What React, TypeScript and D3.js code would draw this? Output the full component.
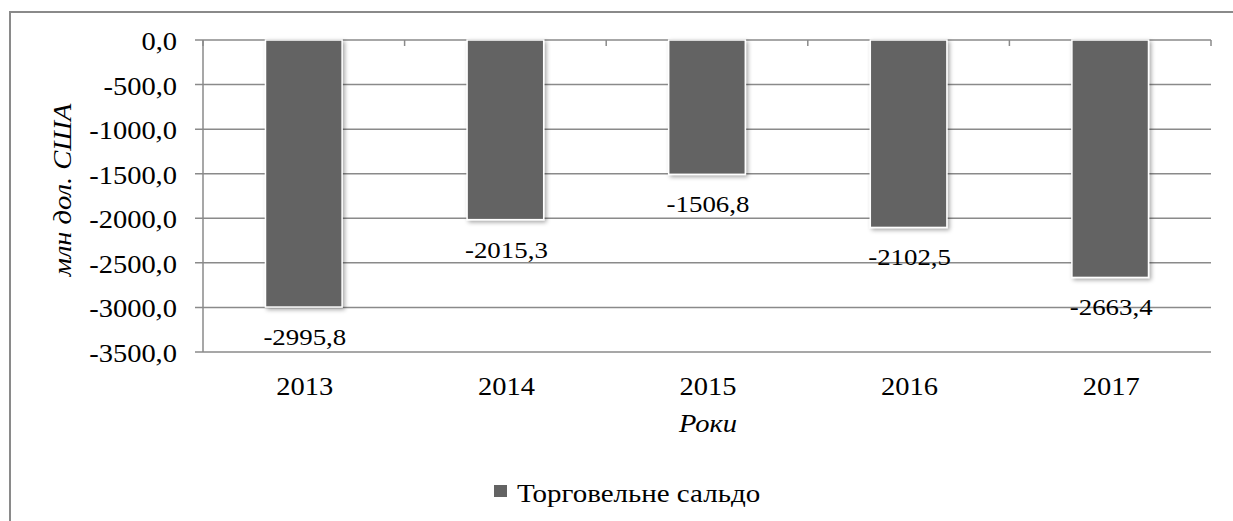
import * as d3 from "d3";
import React from "react";

const years = ["2013", "2014", "2015", "2016", "2017"];
const balance = [-2995.8, -2015.3, -1506.8, -2102.5, -2663.4];
const yTicks = [0, -500, -1000, -1500, -2000, -2500, -3000, -3500];

const seriesName = "Торговельне сальдо";
const yTitle = "млн дол. США";
const xTitle = "Роки";

const W = 1233;
const H = 521;
const margin = { left: 203, right: 22, top: 40, bottom: 169 };
const GRID = "#8a8a8a";
const BAR = "#636363";

const fmt = (v: number) => d3.format(".1f")(v).replace(".", ",").replace("−", "-");

// Word renders this chart's Times text a little wider than the browser does,
// so each label is stretched horizontally instead of letter-spaced.
type LabelProps = {
  x: number;
  y: number;
  anchor?: "start" | "middle" | "end";
  size?: number;
  sx?: number;
  italic?: boolean;
  rotate?: number;
  children: React.ReactNode;
};

const Label: React.FC<LabelProps> = ({ x, y, anchor = "start", size = 25, sx = 1.14, italic, rotate = 0, children }) => (
  <g transform={`translate(${x},${y}) rotate(${rotate}) scale(${sx},1)`}>
    <text
      textAnchor={anchor}
      fontSize={size}
      fill="#000"
      style={{ fontFamily: '"Liberation Serif"', fontStyle: italic ? "italic" : "normal" }}
    >
      {children}
    </text>
  </g>
);

const App: React.FC = () => {
  const x = d3
    .scaleBand<string>()
    .domain(years)
    .range([margin.left, W - margin.right])
    .padding(0);
  const y = d3
    .scaleLinear()
    .domain([0, -3500])
    .range([margin.top, H - margin.bottom]);
  const barW = x.bandwidth() * 0.38;
  const bounds = years.map((d) => x(d) as number).concat([W - margin.right]);

  return (
    <svg width={W} height={H} style={{ position: "absolute", left: 0, top: 0 }}>
      <defs>
        <filter id="shadow" x="-20%" y="-20%" width="150%" height="150%">
          <feDropShadow dx="2" dy="2" stdDeviation="2" floodColor="#000" floodOpacity="0.35" />
        </filter>
      </defs>
      <rect x={0} y={0} width={W} height={H} fill="#fff" />
      <rect x={10} y={12} width={W + 20} height={H + 20} fill="none" stroke={GRID} strokeWidth={2} />

      {/* gridlines */}
      {yTicks.map((t) => (
        <line
          key={t}
          x1={margin.left - 8}
          x2={W - margin.right}
          y1={y(t)}
          y2={y(t)}
          stroke={GRID}
          strokeWidth={1.5}
        />
      ))}
      <line x1={margin.left} x2={margin.left} y1={y(0)} y2={y(-3500)} stroke={GRID} strokeWidth={1.5} />
      {bounds.map((b, i) => (
        <line key={i} x1={b} x2={b} y1={y(0)} y2={y(0) + 6} stroke={GRID} strokeWidth={1.5} />
      ))}

      {/* y tick labels */}
      {yTicks.map((t) => (
        <Label key={t} x={177} y={y(t) + 10} anchor="end">
          {fmt(t)}
        </Label>
      ))}

      {/* bars */}
      {years.map((d, i) => {
        const cx = (x(d) as number) + x.bandwidth() / 2;
        return (
          <g key={d}>
            <rect
              x={cx - barW / 2}
              y={y(0)}
              width={barW}
              height={y(balance[i]) - y(0)}
              fill={BAR}
              stroke="#fff"
              strokeWidth={1.5}
              filter="url(#shadow)"
            />
            <Label x={cx + 1} y={y(balance[i]) + 38} anchor="middle" size={24} sx={1.12}>
              {fmt(balance[i])}
            </Label>
            <Label x={cx + 1} y={395} anchor="middle">
              {d}
            </Label>
          </g>
        );
      })}

      {/* axis titles */}
      <Label x={(margin.left + W - margin.right) / 2 + 1} y={432} anchor="middle" italic>
        {xTitle}
      </Label>
      <Label x={71} y={(y(0) + y(-3500)) / 2 - 6} anchor="middle" italic rotate={-90}>
        {yTitle}
      </Label>

      {/* legend */}
      <rect x={494} y={485} width={13} height={12} fill={BAR} />
      <Label x={517} y={502} sx={1.16}>
        {seriesName}
      </Label>
    </svg>
  );
};

export default App;
